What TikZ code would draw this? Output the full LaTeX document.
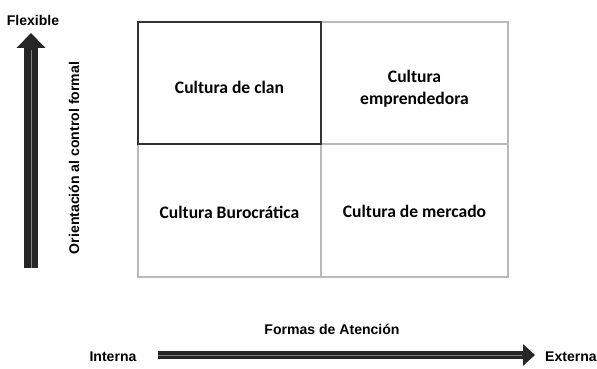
\documentclass[tikz,border=0pt]{standalone}
\usepackage{fontspec}
\setmainfont{Liberation Sans}
\newfontfamily\cellfont{Carlito}
\usetikzlibrary{arrows.meta}

\tikzset{
  cell/.style={draw=gray!55, line width=1.2pt, inner sep=0pt, outer sep=0pt},
  celltext/.style={align=center, inner sep=0pt, font=\cellfont\bfseries\fontsize{10}{12.5}\selectfont},
  axislabel/.style={font=\bfseries\fontsize{8}{9}\selectfont, inner sep=0pt},
  vaxis/.style={line width=7.4pt, draw=black!85, -{Triangle[length=8.5pt, width=15.9pt]}},
  haxis/.style={line width=5.1pt, draw=black!85, -{Triangle[length=6.8pt, width=11.9pt]}},
  shine/.style={draw=black!50, line width=0.4pt}
}

\begin{document}
\begin{tikzpicture}[x=0.02cm, y=-0.02cm]
    \useasboundingbox (0,0) rectangle (597,368);
    % Cuadrantes
    \foreach \n/\x/\y/\ty/\w/\h/\t in {clan/229.5/83/87/3.66/2.44/{Cultura de clan},
        empr/414.5/83/89/3.74/2.44/{Cultura\\emprendedora},
        buro/229.5/210.5/212/3.66/2.66/{Cultura Burocrática},
        merc/414.5/210.5/211/3.74/2.66/{Cultura de mercado}} {
      \node[cell, minimum width=\w cm, minimum height=\h cm] (\n) at (\x,\y) {};
      \node[celltext] (\n-txt) at (\x,\ty) {\t};
    }
    \draw[black!80, line width=1.2pt] (clan.south west) rectangle (clan.north east);
    % Eje vertical
    \coordinate (vbot) at (31,268);
    \coordinate (vtop) at (31,33);
    \draw[vaxis] (vbot) -- (vtop);
    \draw[shine] (vbot) -- (31,50);
    \node[axislabel] (flex) at (33,20) {Flexible};
    \node[axislabel, rotate=90] (orient) at (74,158) {Orientación al control formal};
    % Eje horizontal
    \coordinate (hleft) at (158,355);
    \coordinate (hright) at (535,355);
    \draw[haxis] (hleft) -- (hright);
    \draw[shine] (hleft) -- (522,355);
    \node[axislabel] (inter) at (113,357) {Interna};
    \node[axislabel] (exter) at (571,357) {Externa};
    \node[axislabel] (formas) at (332,329) {Formas de Atención};
\end{tikzpicture}
\end{document}
